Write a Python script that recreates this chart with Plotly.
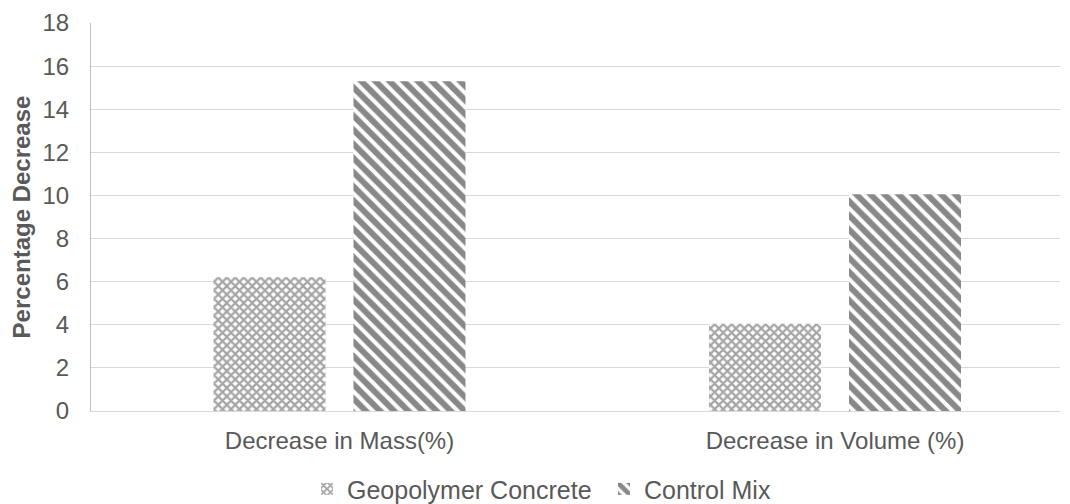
import plotly.graph_objects as go

categories = ["Decrease in Mass(%)", "Decrease in Volume (%)"]
geopolymer = [6.2, 4.05]
control = [15.3, 10.05]
y_ticks = [0, 2, 4, 6, 8, 10, 12, 14, 16, 18]

gray = "#595959"
font = "Liberation Sans, Arial, sans-serif"

fig = go.Figure()
fig.add_trace(go.Bar(
    x=categories, y=geopolymer, name="Geopolymer Concrete",
    marker=dict(color="white", line=dict(width=0),
                pattern=dict(shape="x", fgcolor="#4a4a4a", bgcolor="white",
                             size=6, solidity=0.6, fillmode="overlay")),
))
fig.add_trace(go.Bar(
    x=categories, y=control, name="Control Mix",
    marker=dict(color="white", line=dict(width=0),
                pattern=dict(shape="\\", fgcolor="#111111", bgcolor="white",
                             size=10, solidity=0.6, fillmode="overlay")),
))

# page body has an 8px margin, so the figure is sized to fill the rest of the window
fig.update_layout(
    width=1062, height=496,
    margin=dict(l=83, r=10, t=15, b=93),
    paper_bgcolor="white", plot_bgcolor="white",
    barmode="group", bargap=0.435, bargroupgap=0.2,
    font=dict(family=font, size=24, color=gray),
    legend=dict(orientation="h", x=0.2229, xanchor="left",
                yref="container", y=0.03, yanchor="middle",
                font=dict(size=25, color=gray), itemwidth=30, tracegroupgap=0,
                entrywidth=252, entrywidthmode="pixels"),
    showlegend=True,
)
fig.update_yaxes(
    range=[0, 18], tickvals=y_ticks, showgrid=True, gridcolor="#d9d9d9", gridwidth=1,
    showline=True, linecolor="#bfbfbf", linewidth=1, ticks="",
    tickfont=dict(size=24, color=gray), zeroline=False, automargin=False,
    ticklabelstandoff=16,
    title=dict(text="<b>Percentage Decrease</b>", font=dict(size=24, color=gray), standoff=10),
)
fig.update_xaxes(
    range=[-0.5015, 1.454],
    showline=True, linecolor="#d9d9d9", linewidth=1, ticks="",
    tickfont=dict(size=24, color=gray), automargin=False, ticklabelstandoff=8,
)

fig.write_html("out.html")
